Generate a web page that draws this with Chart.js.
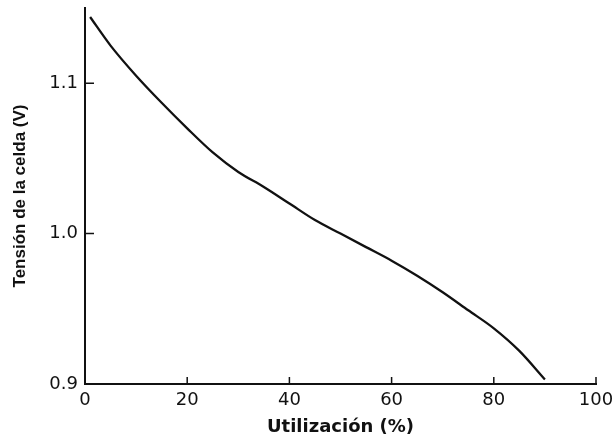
<!DOCTYPE html>
<html>
<head>
<meta charset="utf-8">
<script src="https://cdn.jsdelivr.net/npm/chart.js@4"></script>
<style>
    html, body { margin: 0; padding: 0; background: #fff; }
    #wrap { width: 613px; height: 438px; }
</style>
</head>
<body>
<div id="wrap"><canvas id="cellChart" width="613" height="438"></canvas></div>
<script>
// Utilización (%) vs tensión de la celda (V)
const utilizacion = [1, 5, 10, 15, 20, 25, 30, 35, 40, 45, 50, 55, 60, 65, 70, 75, 80, 85, 90];
const tension = [1.144, 1.125, 1.105, 1.087, 1.070, 1.054, 1.041, 1.031, 1.020, 1.009, 1.000, 0.991, 0.982, 0.972, 0.961, 0.949, 0.937, 0.922, 0.903];
const xTicks = [0, 20, 40, 60, 80, 100];
const yTicks = [0.9, 1.0, 1.1];

// Draws short tick marks pointing into the plot area
const inwardTicks = {
    id: 'inwardTicks',
    afterDatasetsDraw(chart) {
        const ctx = chart.ctx;
        const x = chart.scales.x;
        const y = chart.scales.y;
        const area = chart.chartArea;
        ctx.save();
        ctx.strokeStyle = '#111';
        ctx.lineWidth = 1.5;
        ctx.beginPath();
        xTicks.forEach(v => {
            if (v === 0) return;
            const px = x.getPixelForValue(v);
            ctx.moveTo(px, area.bottom);
            ctx.lineTo(px, area.bottom - 7);
        });
        yTicks.forEach(v => {
            if (v === 0.9) return;
            const py = y.getPixelForValue(v);
            ctx.moveTo(area.left, py);
            ctx.lineTo(area.left + 9, py);
        });
        ctx.stroke();
        ctx.restore();
    }
};

const ctx = document.getElementById('cellChart').getContext('2d');
const cellChart = new Chart(ctx, {
    type: 'line',
    data: {
        datasets: [{
            data: utilizacion.map((u, i) => ({ x: u, y: tension[i] })),
            borderColor: '#111',
            borderWidth: 2.3,
            pointRadius: 0,
            fill: false,
            cubicInterpolationMode: 'monotone'
        }]
    },
    options: {
        responsive: false,
        animation: false,
        layout: {
            padding: { top: 8, right: 17, bottom: 0, left: 0 }
        },
        plugins: {
            legend: { display: false },
            tooltip: { enabled: false }
        },
        scales: {
            x: {
                type: 'linear',
                min: 0,
                max: 100,
                afterBuildTicks: function(scale) {
                    scale.ticks = xTicks.map(v => ({ value: v }));
                },
                afterFit: function(scale) {
                    scale.height = 54;
                    scale.paddingLeft = 0;
                    scale.paddingRight = 0;
                },
                border: { display: true, color: '#111', width: 2 },
                grid: { display: false, drawTicks: false },
                ticks: {
                    padding: 6,
                    color: '#111',
                    font: { family: 'DejaVu Sans', size: 18 },
                    maxRotation: 0,
                    callback: function(value) { return String(value); }
                },
                title: {
                    display: true,
                    text: 'Utilización (%)',
                    color: '#111',
                    font: { family: 'DejaVu Sans', size: 18, weight: 'bold' },
                    padding: { top: 0, bottom: 0 }
                }
            },
            y: {
                type: 'linear',
                min: 0.9,
                max: 1.15,
                afterBuildTicks: function(scale) {
                    scale.ticks = yTicks.map(v => ({ value: v }));
                },
                afterFit: function(scale) {
                    scale.width = 85;
                    scale.paddingTop = 0;
                    scale.paddingBottom = 0;
                },
                border: { display: true, color: '#111', width: 2 },
                grid: { display: false, drawTicks: false },
                ticks: {
                    padding: 7,
                    color: '#111',
                    font: { family: 'DejaVu Sans', size: 18 },
                    callback: function(value) { return value.toFixed(1); }
                },
                title: {
                    display: true,
                    text: 'Tensión de la celda (V)',
                    color: '#111',
                    font: { family: 'Liberation Sans', size: 17, weight: 'bold' },
                    padding: { top: 10, bottom: 0 }
                }
            }
        }
    },
    plugins: [inwardTicks]
});
</script>
</body>
</html>
